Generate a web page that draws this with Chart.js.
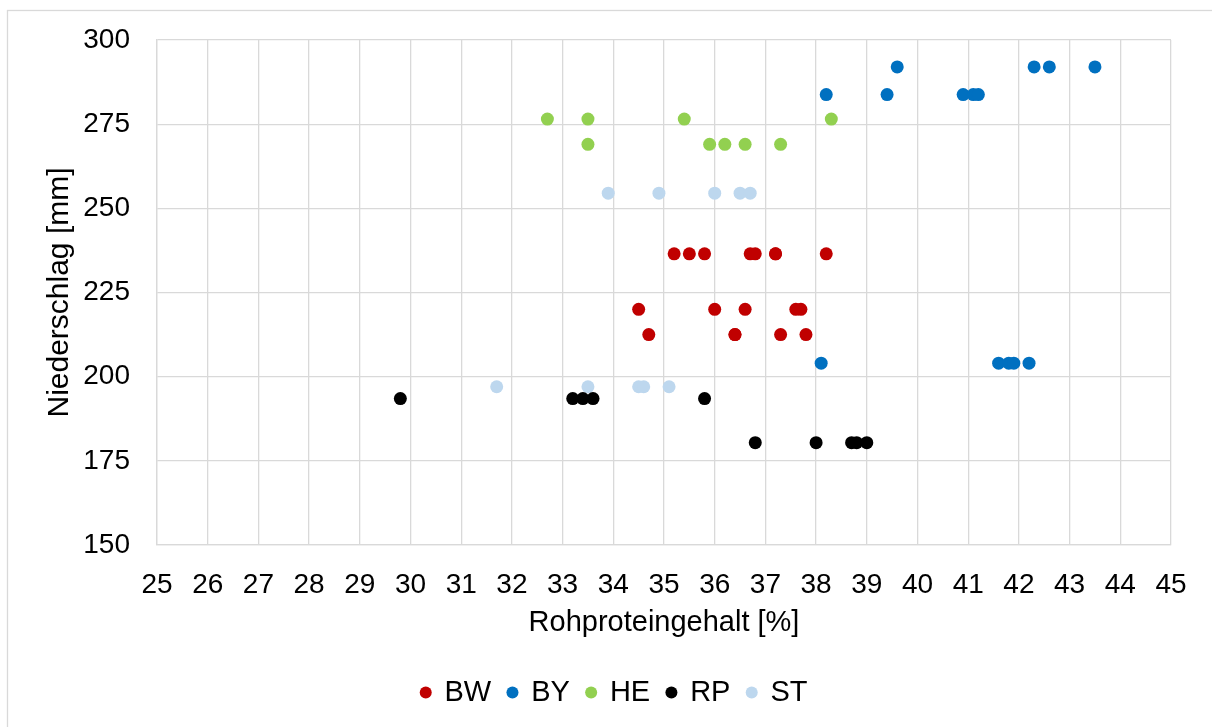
<!DOCTYPE html>
<html>
<head>
<meta charset="utf-8">
<script src="https://cdn.jsdelivr.net/npm/chart.js@4/dist/chart.umd.min.js"></script>
<style>
  html, body { margin: 0; padding: 0; background: #fff; }
  canvas { display: block; }
</style>
</head>
<body>
<canvas id="scatterChart" width="1212" height="727"></canvas>
<script>
// Rohproteingehalt [%] (x) vs. Niederschlag [mm] (y), one pair of arrays per Bundesland
const bwX = [35.2, 35.5, 35.8, 36.7, 36.8, 37.2, 37.2, 38.2, 34.5, 36.0, 36.6, 37.6, 37.7, 34.7, 36.4, 36.4, 37.3, 37.8];
const bwY = [236.5, 236.5, 236.5, 236.5, 236.5, 236.5, 236.5, 236.5, 220, 220, 220, 220, 220, 212.5, 212.5, 212.5, 212.5, 212.5];

const byX = [39.6, 42.3, 42.6, 43.5, 38.2, 39.4, 40.9, 41.1, 41.2, 38.1, 41.6, 41.8, 41.9, 42.2];
const byY = [292, 292, 292, 292, 283.8, 283.8, 283.8, 283.8, 283.8, 204, 204, 204, 204, 204];

const heX = [32.7, 33.5, 35.4, 38.3, 33.5, 35.9, 36.2, 36.6, 37.3];
const heY = [276.5, 276.5, 276.5, 276.5, 269, 269, 269, 269, 269];

const rpX = [29.8, 33.2, 33.4, 33.6, 35.8, 36.8, 38.0, 38.7, 38.8, 39.0];
const rpY = [193.5, 193.5, 193.5, 193.5, 193.5, 180.4, 180.4, 180.4, 180.4, 180.4];

const stX = [33.9, 34.9, 36.0, 36.5, 36.7, 31.7, 33.5, 34.5, 34.6, 35.1];
const stY = [254.5, 254.5, 254.5, 254.5, 254.5, 197, 197, 197, 197, 197];

const seriesNames = ['BW', 'BY', 'HE', 'RP', 'ST'];
const seriesColors = ['#C00000', '#0070C0', '#92D050', '#000000', '#BDD7EE'];

const xMin = 25, xMax = 45, xStep = 1;
const yMin = 150, yMax = 300, yStep = 25;

function toPoints(xs, ys) {
    return xs.map((x, i) => ({ x: x, y: ys[i] }));
}

const seriesPoints = [
    toPoints(bwX, bwY),
    toPoints(byX, byY),
    toPoints(heX, heY),
    toPoints(rpX, rpY),
    toPoints(stX, stY)
];

const gridColor = '#D9D9D9';
const fontFamily = '"Liberation Sans", Arial, sans-serif';

// light frame round the whole chart, like the Excel chart area
const chartFrame = {
    id: 'chartFrame',
    beforeDraw(chart) {
        const c = chart.ctx;
        c.save();
        c.strokeStyle = gridColor;
        c.lineWidth = 1.3;
        c.strokeRect(7.5, 10.5, chart.width + 20, chart.height + 20);
        c.restore();
    }
};

// Excel centres the legend on the full chart area, which is a bit right of ours
const legendShift = {
    id: 'legendShift',
    afterLayout(chart) {
        chart.legend.left += 29;
        chart.legend.right += 29;
    }
};

const ctx = document.getElementById('scatterChart').getContext('2d');

new Chart(ctx, {
    type: 'scatter',
    data: {
        datasets: seriesNames.map((name, i) => ({
            label: name,
            data: seriesPoints[i],
            backgroundColor: seriesColors[i],
            borderColor: seriesColors[i],
            borderWidth: 0,
            pointRadius: 6.5,
            pointHoverRadius: 6.5,
            pointStyle: 'circle'
        }))
    },
    options: {
        responsive: false,
        animation: false,
        layout: {
            padding: { left: 0, top: 40, right: 41, bottom: 10 }
        },
        plugins: {
            legend: {
                position: 'bottom',
                labels: {
                    usePointStyle: true,
                    boxWidth: 8.5,
                    boxHeight: 8.5,
                    padding: 17,
                    color: '#000',
                    font: { family: fontFamily, size: 29 }
                }
            },
            tooltip: { enabled: false }
        },
        scales: {
            x: {
                type: 'linear',
                min: xMin,
                max: xMax,
                afterFit: function (scale) { scale.height = 116; },
                ticks: {
                    stepSize: xStep,
                    padding: 23,
                    maxRotation: 0,
                    autoSkip: false,
                    color: '#000',
                    font: { family: fontFamily, size: 28 }
                },
                grid: { color: gridColor, lineWidth: 1.3, drawTicks: false },
                border: { color: gridColor, width: 1.3 },
                title: {
                    display: true,
                    text: 'Rohproteingehalt [%]',
                    color: '#000',
                    padding: { top: 0, bottom: 21 },
                    font: { family: fontFamily, size: 29 }
                }
            },
            y: {
                type: 'linear',
                min: yMin,
                max: yMax,
                // fixed width; drop the label half-height padding so the plot top follows layout.padding
                afterFit: function (scale) {
                    scale.width = 157;
                    scale.paddingTop = 0;
                    scale.paddingBottom = 0;
                },
                ticks: {
                    stepSize: yStep,
                    padding: 27,
                    color: '#000',
                    font: { family: fontFamily, size: 28 }
                },
                grid: { color: gridColor, lineWidth: 1.3, drawTicks: false },
                border: { color: gridColor, width: 1.3 },
                title: {
                    display: true,
                    text: 'Niederschlag [mm]',
                    color: '#000',
                    padding: { top: 42, bottom: 0 },
                    font: { family: fontFamily, size: 30 }
                }
            }
        }
    },
    plugins: [chartFrame, legendShift]
});
</script>
</body>
</html>
